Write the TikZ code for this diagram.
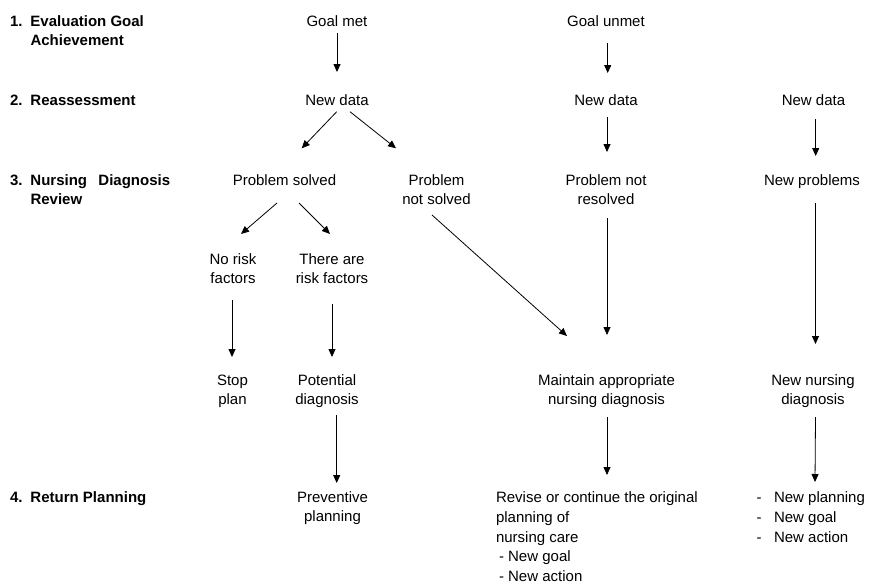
\documentclass[tikz,border=0pt]{standalone}
\usepackage{fontspec}
\setmainfont{Liberation Sans}
\usetikzlibrary{arrows.meta}

\begin{document}
\begin{tikzpicture}[x=1pt,y=-1pt,
  txt/.style={inner sep=0pt, outer sep=0pt, anchor=north,
    font=\fontsize{15}{19}\selectfont, align=center,
    execute at begin node=\strut, execute at end node=\strut},
  ltxt/.style={txt, anchor=north west, align=left},
  stage/.style={ltxt, font=\fontsize{15}{19}\selectfont\bfseries},
  arr/.style={draw=black, line width=0.8pt, -{Triangle[length=8pt,width=7pt]}}]

\path[use as bounding box] (0,0) rectangle (869,581);

% stage labels on the left
\node[stage] (s1) at (10,12.7) {\strut\makebox[20.5pt][l]{1.}Evaluation Goal\\\hspace*{20.5pt}Achievement};
\node[stage] (s2) at (10,91.7) {\makebox[20.5pt][l]{2.}Reassessment};
\node[stage] (s3) at (10,171.7) {\strut\makebox[20.5pt][l]{3.}Nursing\hspace*{11.3pt}Diagnosis\\\hspace*{20.5pt}Review};
\node[stage] (s4) at (10,488.7) {\makebox[20.5pt][l]{4.}Return Planning};

% row 1
\node[txt] (gm) at (337,12.7) {Goal met};
\node[txt] (gu) at (606,12.7) {Goal unmet};

% row 2
\node[txt] (nd1) at (337,91.7) {New data};
\node[txt] (nd2) at (606,91.7) {New data};
\node[txt] (nd3) at (813.5,91.7) {New data};

% row 3
\node[txt] (ps)  at (284.5,171.7) {Problem solved};
\node[txt] (pns) at (436.5,171.7) {\strut Problem\\not solved};
\node[txt] (pnr) at (606,171.7) {\strut Problem not\\resolved};
\node[txt] (np)  at (812,171.7) {New problems};

% risk factors
\node[txt] (nrf) at (233,250.7) {\strut No risk\\factors};
\node[txt] (rf)  at (332,250.7) {\strut There are\\risk factors};

% diagnoses
\node[txt] (sp)  at (232.5,371.7) {\strut Stop\\plan};
\node[txt] (pd)  at (327,371.7) {\strut Potential\\diagnosis};
\node[txt] (mnd) at (606.5,371.7) {\strut Maintain appropriate\\nursing diagnosis};
\node[txt] (nnd) at (813,371.7) {\strut New nursing\\diagnosis};

% planning
\node[txt] (pp) at (332.5,488.7) {\strut Preventive\\planning};
\node[ltxt, font=\fontsize{15}{19.75}\selectfont] (rev) at (496,488.7)
  {\strut Revise or continue the original\\planning of\\nursing care\\\hspace*{3pt}- New goal\\\hspace*{3pt}- New action};
\node[ltxt, font=\fontsize{15}{20}\selectfont] (nl) at (756.5,488.7)
  {\strut\makebox[17.5pt][l]{-}New planning\\\makebox[17.5pt][l]{-}New goal\\\makebox[17.5pt][l]{-}New action};

% connectors
\draw[arr] ([yshift=-1.3pt]gm.south) -- ([yshift=19.7pt]nd1.north);
\draw[arr] ([xshift=1.7pt,yshift=-11.3pt]gu.south) -- ([xshift=1.7pt,yshift=18.7pt]nd2.north);
\draw[arr] ([xshift=1pt,yshift=-6.3pt]nd2.south) -- ([xshift=1pt,yshift=19.7pt]pnr.north);
\draw[arr] ([xshift=2.2pt,yshift=-8.3pt]nd3.south) -- ([xshift=3.7pt,yshift=15.7pt]np.north);

\draw[arr] ([xshift=-0.3pt,yshift=-1pt]nd1.south) -- ([xshift=17.2pt,yshift=23.4pt]ps.north);
\draw[arr] ([xshift=13pt,yshift=-1pt]nd1.south) -- ([xshift=-40.5pt,yshift=23.4pt]pns.north);

\draw[arr] ([xshift=-7.5pt,yshift=-12.3pt]ps.south) -- ([xshift=8pt,yshift=16.7pt]nrf.north);
\draw[arr] ([xshift=14.5pt,yshift=-12.3pt]ps.south) -- ([xshift=-2pt,yshift=16.7pt]rf.north);

\draw[arr] ([xshift=-4.5pt,yshift=-5.3pt]pns.south) -- ([xshift=-39.5pt,yshift=35.7pt]mnd.north);
\draw[arr] ([xshift=1pt,yshift=-8.3pt]pnr.south) -- ([xshift=0.5pt,yshift=36.7pt]mnd.north);
\draw[arr] ([xshift=3.5pt,yshift=-12.3pt]np.south) -- ([xshift=2.5pt,yshift=27.7pt]nnd.north);

\draw[arr] ([xshift=-1pt,yshift=-11.3pt]nrf.south) -- ([xshift=-0.5pt,yshift=14.7pt]sp.north);
\draw[arr] ([yshift=-15.3pt]rf.south) -- ([xshift=5pt,yshift=14.7pt]pd.north);

\draw[arr] ([xshift=9.7pt,yshift=-5.3pt]pd.south) -- ([xshift=4.2pt,yshift=5.7pt]pp.north);
\draw[arr] ([xshift=0.5pt,yshift=-7.3pt]mnd.south) -- ([xshift=111pt,yshift=13.7pt]rev.north west);
\draw[arr] ([xshift=2.5pt,yshift=-7.3pt]nnd.south) -- ([xshift=58.5pt,yshift=6.7pt]nl.north west);

\end{tikzpicture}
\end{document}
